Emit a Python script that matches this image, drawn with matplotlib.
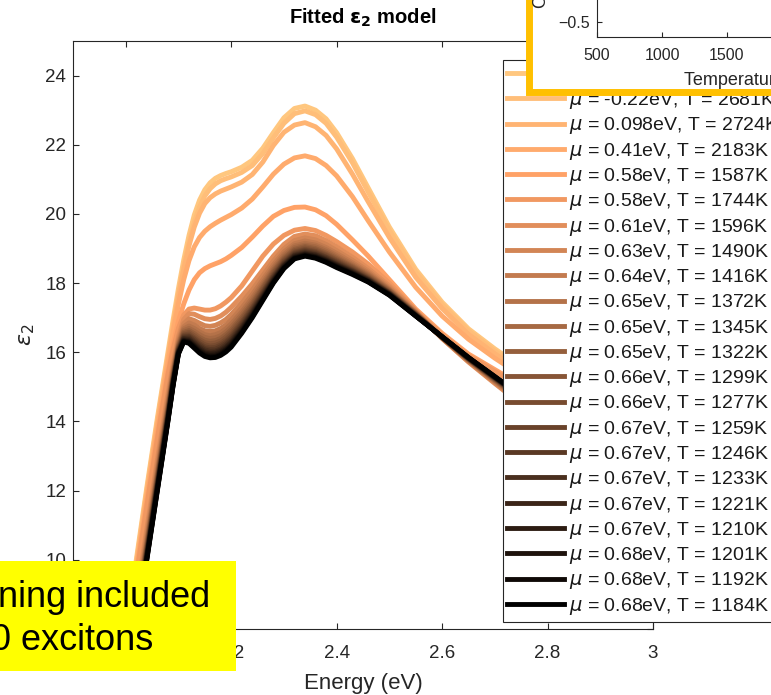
import numpy as np
import matplotlib
matplotlib.use("Agg")
import matplotlib.pyplot as plt
from matplotlib.patches import Rectangle
from matplotlib.ticker import FuncFormatter

plt.rcParams['font.family'] = ['Liberation Sans', 'DejaVu Sans']
plt.rcParams['mathtext.fontset'] = 'dejavusans'

# ---------------- data ----------------
energy_ev = [1.98, 2.00, 2.02, 2.04,
             2.06, 2.07, 2.08, 2.09, 2.10, 2.11, 2.12, 2.13, 2.14, 2.15, 2.16, 2.17, 2.18, 2.19, 2.20,
             2.22, 2.24, 2.26, 2.28, 2.30, 2.32, 2.34, 2.36, 2.38, 2.40, 2.43, 2.46, 2.50, 2.55,
             2.60, 2.65, 2.70, 2.75, 2.80, 2.90, 3.00]

mu_ev = [-0.52, -0.22, 0.098, 0.41, 0.58, 0.58, 0.61, 0.63, 0.64, 0.65, 0.65,
         0.65, 0.66, 0.66, 0.67, 0.67, 0.67, 0.67, 0.67, 0.68, 0.68, 0.68]
temp_k = [2702, 2681, 2724, 2183, 1587, 1744, 1596, 1490, 1416, 1372, 1345,
          1322, 1299, 1277, 1259, 1246, 1233, 1221, 1210, 1201, 1192, 1184]

eps2_T2702 = [5.8, 7.9, 10.0, 12.1,
              14.1, 15.05, 16.0, 16.95, 17.85, 18.67, 19.38, 19.97, 20.4, 20.7, 20.9, 21.03, 21.11, 21.17, 21.22,
              21.35, 21.55, 21.9, 22.35, 22.78, 23.05, 23.12, 23.0, 22.75, 22.35, 21.6, 20.75, 19.62, 18.4,
              17.45, 16.68, 16.1, 15.58, 15.05, 14.02, 13.05]
eps2_T2681 = [5.7, 7.8, 9.9, 12.0,
              14.0, 14.95, 15.88, 16.8, 17.68, 18.48, 19.18, 19.76, 20.2, 20.52, 20.73, 20.87, 20.96, 21.02, 21.07,
              21.2, 21.4, 21.75, 22.2, 22.62, 22.9, 22.98, 22.87, 22.62, 22.22, 21.48, 20.63, 19.52, 18.32,
              17.38, 16.62, 16.04, 15.52, 15.0, 13.97, 13.0]
eps2_T2724 = [5.6, 7.7, 9.8, 11.9,
              13.9, 14.85, 15.8, 16.72, 17.6, 18.4, 19.08, 19.62, 20.02, 20.3, 20.47, 20.58, 20.66, 20.72, 20.78,
              20.92, 21.14, 21.5, 21.98, 22.36, 22.57, 22.64, 22.52, 22.27, 21.88, 21.15, 20.35, 19.32, 18.17,
              17.27, 16.52, 15.96, 15.45, 14.93, 13.92, 12.96]
eps2_T2183 = [5.5, 7.6, 9.7, 11.8,
              13.8, 14.75, 15.68, 16.58, 17.4, 18.1, 18.65, 19.05, 19.32, 19.5, 19.63, 19.73, 19.82, 19.9, 19.98,
              20.17, 20.43, 20.78, 21.15, 21.44, 21.62, 21.68, 21.6, 21.4, 21.1, 20.5, 19.8, 18.9, 17.88,
              17.05, 16.38, 15.83, 15.33, 14.82, 13.84, 12.9]
eps2_T1587 = [5.4, 7.5, 9.6, 11.65,
              13.6, 14.55, 15.45, 16.25, 16.9, 17.4, 17.8, 18.1, 18.3, 18.42, 18.5, 18.56, 18.62, 18.7, 18.8,
              19.03, 19.33, 19.65, 19.93, 20.1, 20.19, 20.2, 20.12, 19.95, 19.7, 19.25, 18.78, 18.1, 17.25,
              16.55, 15.95, 15.5, 15.05, 14.6, 13.7, 12.8]
eps2_T1744 = [5.3, 7.4, 9.5, 11.55,
              13.5, 14.45, 15.35, 16.1, 16.7, 17.08, 17.25, 17.28, 17.25, 17.22, 17.22, 17.26, 17.34, 17.45, 17.58,
              17.92, 18.35, 18.78, 19.13, 19.38, 19.53, 19.58, 19.52, 19.38, 19.2, 18.9, 18.55, 18.0, 17.2,
              16.5, 15.9, 15.45, 15.0, 14.55, 13.65, 12.75]
eps2_T1596 = [4.8, 6.85, 8.9, 10.9,
              12.9, 13.87, 14.8, 15.7, 16.45, 16.95, 17.12, 17.1, 17.03, 16.97, 16.95, 16.98, 17.05, 17.16, 17.3,
              17.62, 17.98, 18.38, 18.78, 19.12, 19.35, 19.42, 19.37, 19.23, 19.05, 18.75, 18.42, 17.92, 17.2,
              16.4, 15.72, 15.1, 14.5, 13.95, 12.95, 12.0]
eps2_T1490 = [4.66, 6.70, 8.74, 10.74,
              12.74, 13.71, 14.66, 15.58, 16.36, 16.83, 16.97, 16.92, 16.84, 16.77, 16.75, 16.78, 16.85, 16.95, 17.09,
              17.43, 17.80, 18.22, 18.64, 18.99, 19.23, 19.31, 19.25, 19.12, 18.94, 18.66, 18.35, 17.87, 17.17,
              16.41, 15.74, 15.14, 14.55, 14.00, 13.00, 12.05]
eps2_T1416 = [4.54, 6.58, 8.61, 10.61,
              12.61, 13.59, 14.54, 15.49, 16.29, 16.74, 16.85, 16.79, 16.69, 16.62, 16.60, 16.62, 16.69, 16.79, 16.93,
              17.28, 17.67, 18.10, 18.53, 18.90, 19.14, 19.22, 19.16, 19.03, 18.86, 18.59, 18.30, 17.83, 17.15,
              16.42, 15.76, 15.16, 14.58, 14.03, 13.03, 12.10]
eps2_T1372 = [4.46, 6.49, 8.52, 10.52,
              12.52, 13.51, 14.46, 15.43, 16.24, 16.68, 16.76, 16.69, 16.59, 16.51, 16.48, 16.51, 16.57, 16.68, 16.82,
              17.17, 17.57, 18.01, 18.45, 18.83, 19.08, 19.15, 19.10, 18.97, 18.80, 18.54, 18.26, 17.81, 17.14,
              16.42, 15.78, 15.18, 14.61, 14.06, 13.06, 12.13]
eps2_T1345 = [4.40, 6.43, 8.45, 10.45,
              12.45, 13.44, 14.40, 15.38, 16.20, 16.63, 16.69, 16.61, 16.51, 16.43, 16.40, 16.42, 16.48, 16.59, 16.73,
              17.09, 17.49, 17.94, 18.39, 18.77, 19.03, 19.10, 19.05, 18.92, 18.75, 18.50, 18.23, 17.79, 17.13,
              16.43, 15.79, 15.20, 14.63, 14.08, 13.08, 12.15]
eps2_T1322 = [4.34, 6.37, 8.39, 10.39,
              12.39, 13.37, 14.34, 15.33, 16.17, 16.58, 16.63, 16.54, 16.43, 16.35, 16.32, 16.34, 16.40, 16.51, 16.65,
              17.01, 17.42, 17.88, 18.34, 18.72, 18.98, 19.06, 19.00, 18.87, 18.71, 18.47, 18.20, 17.77, 17.12,
              16.43, 15.79, 15.21, 14.64, 14.09, 13.09, 12.17]
eps2_T1299 = [4.30, 6.32, 8.33, 10.33,
              12.33, 13.32, 14.30, 15.29, 16.14, 16.54, 16.58, 16.48, 16.37, 16.28, 16.25, 16.27, 16.33, 16.44, 16.58,
              16.95, 17.36, 17.83, 18.29, 18.68, 18.94, 19.02, 18.96, 18.83, 18.67, 18.44, 18.17, 17.75, 17.11,
              16.43, 15.80, 15.23, 14.66, 14.11, 13.11, 12.19]
eps2_T1277 = [4.25, 6.26, 8.28, 10.28,
              12.28, 13.27, 14.25, 15.25, 16.11, 16.50, 16.53, 16.42, 16.31, 16.22, 16.18, 16.20, 16.26, 16.37, 16.51,
              16.88, 17.30, 17.77, 18.24, 18.64, 18.90, 18.98, 18.92, 18.80, 18.64, 18.41, 18.15, 17.73, 17.10,
              16.43, 15.81, 15.24, 14.67, 14.12, 13.12, 12.21]
eps2_T1259 = [4.21, 6.22, 8.23, 10.23,
              12.23, 13.23, 14.21, 15.22, 16.08, 16.47, 16.48, 16.38, 16.25, 16.16, 16.13, 16.14, 16.21, 16.31, 16.45,
              16.83, 17.26, 17.73, 18.20, 18.60, 18.87, 18.95, 18.89, 18.76, 18.61, 18.38, 18.13, 17.72, 17.09,
              16.44, 15.82, 15.25, 14.69, 14.14, 13.14, 12.22]
eps2_T1246 = [4.17, 6.18, 8.19, 10.19,
              12.19, 13.19, 14.17, 15.19, 16.06, 16.44, 16.45, 16.33, 16.21, 16.11, 16.08, 16.09, 16.16, 16.26, 16.40,
              16.78, 17.21, 17.69, 18.17, 18.57, 18.84, 18.92, 18.86, 18.74, 18.58, 18.36, 18.11, 17.71, 17.08,
              16.44, 15.82, 15.26, 14.70, 14.15, 13.15, 12.24]
eps2_T1233 = [4.14, 6.15, 8.15, 10.15,
              12.15, 13.15, 14.14, 15.16, 16.04, 16.41, 16.41, 16.29, 16.16, 16.07, 16.03, 16.04, 16.10, 16.21, 16.35,
              16.73, 17.17, 17.65, 18.13, 18.54, 18.81, 18.89, 18.83, 18.71, 18.55, 18.34, 18.10, 17.70, 17.08,
              16.44, 15.83, 15.27, 14.71, 14.16, 13.16, 12.25]
eps2_T1221 = [4.10, 6.11, 8.12, 10.12,
              12.12, 13.11, 14.10, 15.14, 16.02, 16.39, 16.37, 16.25, 16.12, 16.02, 15.98, 16.00, 16.06, 16.16, 16.30,
              16.69, 17.13, 17.61, 18.10, 18.51, 18.79, 18.86, 18.81, 18.68, 18.53, 18.32, 18.08, 17.69, 17.07,
              16.44, 15.83, 15.27, 14.72, 14.17, 13.17, 12.26]
eps2_T1210 = [4.08, 6.08, 8.09, 10.09,
              12.09, 13.08, 14.08, 15.11, 16.00, 16.36, 16.34, 16.21, 16.08, 15.98, 15.95, 15.96, 16.02, 16.12, 16.26,
              16.65, 17.09, 17.58, 18.07, 18.49, 18.76, 18.84, 18.78, 18.66, 18.51, 18.30, 18.07, 17.68, 17.06,
              16.45, 15.84, 15.28, 14.73, 14.18, 13.18, 12.27]
eps2_T1201 = [4.05, 6.05, 8.05, 10.05,
              12.05, 13.05, 14.05, 15.09, 15.98, 16.34, 16.31, 16.18, 16.04, 15.95, 15.91, 15.92, 15.98, 16.08, 16.22,
              16.61, 17.06, 17.55, 18.05, 18.46, 18.74, 18.82, 18.76, 18.64, 18.49, 18.28, 18.05, 17.67, 17.06,
              16.45, 15.84, 15.29, 14.74, 14.19, 13.19, 12.28]
eps2_T1192 = [4.02, 6.03, 8.03, 10.03,
              12.03, 13.03, 14.02, 15.07, 15.97, 16.32, 16.29, 16.15, 16.01, 15.91, 15.87, 15.88, 15.94, 16.05, 16.19,
              16.58, 17.03, 17.53, 18.02, 18.44, 18.72, 18.80, 18.74, 18.62, 18.47, 18.27, 18.04, 17.66, 17.05,
              16.45, 15.85, 15.29, 14.74, 14.19, 13.19, 12.29]
eps2_T1184 = [4.00, 6.00, 8.00, 10.00,
              12.00, 13.00, 14.00, 15.05, 15.95, 16.30, 16.26, 16.12, 15.98, 15.88, 15.84, 15.85, 15.91, 16.01, 16.15,
              16.55, 17.00, 17.50, 18.00, 18.42, 18.70, 18.78, 18.72, 18.60, 18.45, 18.25, 18.03, 17.65, 17.05,
              16.45, 15.85, 15.30, 14.75, 14.20, 13.20, 12.30]

eps2_curves = [eps2_T2702, eps2_T2681, eps2_T2724, eps2_T2183, eps2_T1587, eps2_T1744,
               eps2_T1596, eps2_T1490, eps2_T1416, eps2_T1372, eps2_T1345, eps2_T1322,
               eps2_T1299, eps2_T1277, eps2_T1259, eps2_T1246, eps2_T1233, eps2_T1221,
               eps2_T1210, eps2_T1201, eps2_T1192, eps2_T1184]

x_ticks = [2.0, 2.2, 2.4, 2.6, 2.8, 3.0]
y_ticks = [8, 10, 12, 14, 16, 18, 20, 22, 24]
inset_x_ticks = [500, 1000, 1500, 2000, 2500, 3000]
inset_y_ticks = [-0.5, 0, 0.5]

# ---------------- layout helpers (pixel -> figure fraction) ----------------
W, H = 771, 695
fig = plt.figure(figsize=(W / 100, H / 100), dpi=100)


def fx(px):
    return px / W


def fy(py):
    return 1 - py / H


ink = '0.15'

# ---------------- main axes ----------------
ax = fig.add_axes([fx(73), fy(629), (653 - 73) / W, (629 - 41) / H])
colors = plt.cm.copper(np.linspace(1, 0, len(eps2_curves)))
for eps, col, mu, T in zip(eps2_curves, colors, mu_ev, temp_k):
    ax.plot(energy_ev, eps, color=col, lw=3.5,
            label=rf'$\mu$ = {mu:g}eV, T = {T}K')

ax.set_xlim(1.9, 3.0)
ax.set_ylim(8, 25)
ax.set_xticks(x_ticks)
ax.set_yticks(y_ticks)
ax.xaxis.set_major_formatter(FuncFormatter(lambda v, p: f'{v:g}'))
ax.tick_params(direction='in', top=True, right=True, length=4.5, width=0.8,
               colors=ink, labelsize=13.5)
ax.tick_params(axis='x', pad=11.5)
ax.tick_params(axis='y', pad=5)
for s in ax.spines.values():
    s.set_color(ink)
    s.set_linewidth(0.8)

ax.set_xlabel('Energy (eV)', fontsize=16, color=ink)
ax.xaxis.set_label_coords(0.5, -0.0745)
ax.set_ylabel(r'$\epsilon_2$', fontsize=16, color=ink)
ax.yaxis.set_label_coords(-0.062, 0.5)
ax.set_title(r'Fitted $\mathbf{\epsilon_2}$ model', fontsize=14.5,
             fontweight='bold', pad=12.5)

leg = ax.legend(loc='upper left', bbox_to_anchor=(fx(502.5), fy(60)),
                bbox_transform=fig.transFigure, borderaxespad=0, fontsize=14,
                frameon=True, fancybox=False, framealpha=1, edgecolor=ink,
                borderpad=0.25, handlelength=2.9, handletextpad=0.25,
                labelspacing=0.22)
leg.get_frame().set_linewidth(0.8)
for t in leg.get_texts():
    t.set_color('0.1')

# ---------------- inset: chemical potential vs temperature ----------------
frame = Rectangle((fx(528.5), fy(91.5)), 1.0, 1.0, transform=fig.transFigure,
                  facecolor='white', edgecolor='#FFC000', linewidth=5.0)
frame.set_zorder(1.5)
fig.add_artist(frame)

ax_in = fig.add_axes([fx(597), fy(37), 325 / W, 210 / H])
ax_in.set_zorder(2)
ax_in.plot(temp_k, mu_ev, 'o', color='k', ms=5)
ax_in.set_xlim(500, 3000)
ax_in.set_ylim(-0.6, 0.8)
ax_in.set_xticks(inset_x_ticks)
ax_in.set_yticks(inset_y_ticks)
ax_in.tick_params(direction='in', length=3.5, width=0.8, colors=ink,
                  labelsize=11.5)
ax_in.tick_params(axis='x', pad=8)
ax_in.tick_params(axis='y', pad=5)
for s in ax_in.spines.values():
    s.set_color(ink)
    s.set_linewidth(0.8)
ax_in.set_xlabel('Temperature (K)', fontsize=13, color=ink)
ax_in.xaxis.set_label_coords(0.469, -0.167)
fig.text(fx(541), fy(8), 'Chemical potential (eV)', rotation=90, ha='center',
         va='bottom', fontsize=13, color=ink, zorder=3)

# ---------------- yellow note ----------------
note = Rectangle((0, fy(671)), fx(236), (671 - 561) / H, transform=fig.transFigure,
                 facecolor='#FFFF00', edgecolor='none')
note.set_zorder(1.2)
fig.add_artist(note)
fig.text(fx(-2), fy(607), 'ning included', fontsize=26, ha='left',
         va='baseline', color='black', zorder=1.3)
fig.text(fx(-9), fy(650), '0 excitons', fontsize=26, ha='left',
         va='baseline', color='black', zorder=1.3)

fig.savefig('out.png', dpi=100)
